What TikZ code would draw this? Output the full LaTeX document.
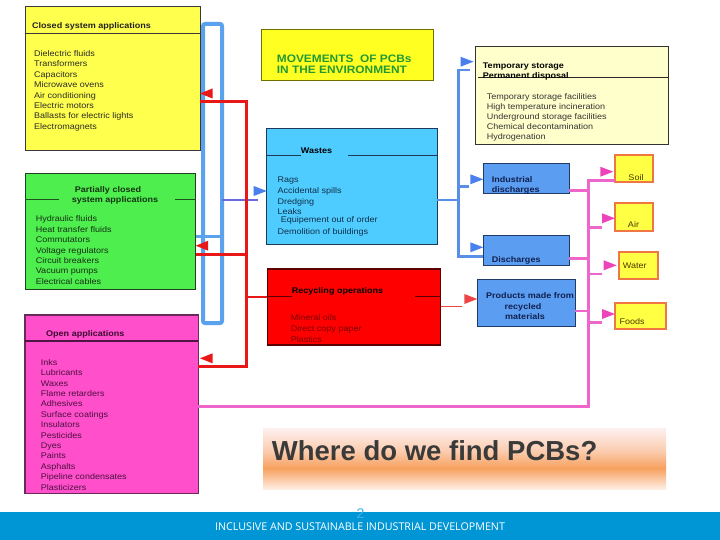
\documentclass[tikz,border=0pt]{standalone}
\usepackage{fontspec}
\setmainfont{Liberation Sans}
\newfontfamily\boxfont[FakeStretch=1.1]{Liberation Sans}
\newfontfamily\footfont{Open Sans}
\definecolor{cyel}{HTML}{FFFF4D}
\definecolor{cgrn}{HTML}{4DEE4D}
\definecolor{cmag}{HTML}{FF4FCB}
\definecolor{ctitle}{HTML}{FFFF22}
\definecolor{cwaste}{HTML}{4FCCFF}
\definecolor{crec}{HTML}{FF0000}
\definecolor{ctemp}{HTML}{FFFFCC}
\definecolor{cbbox}{HTML}{5B9DF0}
\definecolor{ctarget}{HTML}{FFFF44}
\definecolor{corange}{HTML}{EE7744}
\definecolor{cloop}{HTML}{5AA2EE}
\definecolor{cbline}{HTML}{5A8FE8}
\definecolor{cbarrow}{HTML}{4A7FEE}
\definecolor{cthin}{HTML}{6A6ADD}
\definecolor{cred}{HTML}{E81818}
\definecolor{clred}{HTML}{EE4444}
\definecolor{cpink}{HTML}{EE66CC}
\definecolor{cparrow}{HTML}{EE44BB}
\definecolor{cfoot}{HTML}{0096D6}
\definecolor{ctwo}{HTML}{3FB0E6}
\definecolor{ctgreen}{HTML}{229933}
\definecolor{bnB}{HTML}{FFEEE4}
\definecolor{bnO}{HTML}{F7A05E}
\definecolor{bnM}{HTML}{FBCCAE}
\definecolor{bnT}{HTML}{FDF0F0}
\pgfdeclareverticalshading{bannershade}{100bp}{color(0bp)=(bnB); color(25bp)=(bnB); color(42bp)=(bnO); color(56bp)=(bnM); color(75bp)=(bnT); color(100bp)=(bnT)}
\newcommand\arrL[2]{\fill[#1] #2 -- ++(12.5,-5) -- ++(0,10) -- cycle;}
\newcommand\arrR[2]{\fill[#1] #2 -- ++(-13,-5) -- ++(0,10) -- cycle;}
\begin{document}
\begin{tikzpicture}[x=1pt,y=-1pt,
  box/.style={draw, line width=1pt, anchor=north west, inner sep=0pt, outer sep=0pt},
  tbox/.style={box, fill=ctarget, draw=corange, line width=2pt},
  bbox/.style={box, fill=cbbox, draw={rgb,255:red,34;green,58;blue,102}},
  txt/.style={anchor=base west, inner sep=0pt, font=\boxfont\fontsize{8.2}{10}\selectfont},
  hdr/.style={anchor=base west, inner sep=0pt, font=\boxfont\bfseries\fontsize{8.2}{10}\selectfont},
  redline/.style={draw=cred, line width=3pt},
  pinkline/.style={draw=cpink, line width=2.5pt},
  bline/.style={draw=cbline, line width=2.6pt}]
\useasboundingbox (0,0) rectangle (720,540);
\fill[white] (0,0) rectangle (720,540);

% ---------- boxes ----------
\node[box, fill=cyel, draw={rgb,255:red,58;green,58;blue,58}, minimum width=175pt, minimum height=144pt] (closed) at (25,7) {};
\node[box, fill=cgrn, draw={rgb,255:red,31;green,63;blue,31}, minimum width=170.7pt, minimum height=115.7pt] (green) at (25,173.3) {};
\node[box, fill=cmag, draw={rgb,255:red,106;green,42;blue,90}, line width=1.5pt, minimum width=173.3pt, minimum height=178.3pt] (openapp) at (25,315) {};
\node[box, fill=ctitle, draw={rgb,255:red,111;green,111;blue,0}, minimum width=171.6pt, minimum height=51pt] (title) at (261.7,30) {};
\node[box, fill=cwaste, draw={rgb,255:red,30;green,58;blue,90}, minimum width=170.6pt, minimum height=115.3pt] (wastes) at (266.7,129) {};
\node[box, fill=crec, draw={rgb,255:red,90;green,0;blue,0}, line width=1.5pt, minimum width=173.4pt, minimum height=76pt] (recyc) at (267.3,269) {};
\node[box, fill=ctemp, draw={rgb,255:red,51;green,51;blue,51}, minimum width=193.3pt, minimum height=97.6pt] (temp) at (475,46.7) {};
\node[bbox, minimum width=86pt, minimum height=29.3pt] (indis) at (483.3,164) {};
\node[bbox, minimum width=86pt, minimum height=30pt] (disch) at (483.3,235) {};
\node[bbox, minimum width=97.7pt, minimum height=46.7pt] (prods) at (477.3,279.3) {};
\node[tbox, minimum width=38.3pt, minimum height=26.7pt] (soil) at (615,155) {};
\node[tbox, minimum width=38.3pt, minimum height=27.4pt] (air) at (615,203.3) {};
\node[tbox, minimum width=39pt, minimum height=27.6pt] (water) at (619.3,251.7) {};
\node[tbox, minimum width=51pt, minimum height=26pt] (foods) at (615,302.7) {};

% header separators
\draw[line width=1pt, draw={rgb,255:red,58;green,58;blue,58}] (closed.west |- 0,33.3) -- (closed.east |- 0,33.3);
\draw[line width=1pt, draw={rgb,255:red,31;green,80;blue,31}] (green.west |- 0,199.3) -- (59.3,199.3) (175,199.3) -- (green.east |- 0,199.3);
\draw[line width=1.5pt, draw={rgb,255:red,80;green,20;blue,70}] (openapp.west |- 0,341) -- (openapp.east |- 0,341);
\draw[line width=1pt, draw={rgb,255:red,30;green,58;blue,90}] (wastes.west |- 0,156) -- (300.7,156) (348.3,156) -- (wastes.east |- 0,156);
\draw[line width=1pt, draw={rgb,255:red,90;green,0;blue,0}] (recyc.west |- 0,296.7) -- (291.7,296.7) (415,296.7) -- (recyc.east |- 0,296.7);
\draw[line width=1pt, draw={rgb,255:red,40;green,40;blue,40}] (478,77.7) -- (temp.east |- 0,77.7);

% ---------- texts ----------
\node[hdr, text={rgb,255:red,34;green,34;blue,34}] (ch) at (32,29) {Closed system applications};
\foreach \t [count=\i from 0] in {Dielectric fluids,Transformers,Capacitors,Microwave ovens,Air conditioning,Electric motors,Ballasts for electric lights,Electromagnets}
  \node[txt, text={rgb,255:red,42;green,42;blue,42}] (ci\i) at (34,56.5+10.4*\i) {\t};

\node[hdr, anchor=base, text={rgb,255:red,20;green,50;blue,20}] (gh1) at (108,192.5) {Partially closed};
\node[hdr, anchor=base, text={rgb,255:red,20;green,50;blue,20}] (gh2) at (115,202.5) {system applications};
\foreach \t [count=\i from 0] in {Hydraulic fluids,Heat transfer fluids,Commutators,Voltage regulators,Circuit breakers,Vacuum pumps,Electrical cables}
  \node[txt, text={rgb,255:red,22;green,48;blue,22}] (gi\i) at (35.7,221.8+10.4*\i) {\t};

\node[hdr, text={rgb,255:red,58;green,10;blue,48}] (oh) at (46,336.5) {Open applications};
\foreach \t [count=\i from 0] in {Inks,Lubricants,Waxes,Flame retarders,Adhesives,Surface coatings,Insulators,Pesticides,Dyes,Paints,Asphalts,Pipeline condensates,Plasticizers}
  \node[txt, text={rgb,255:red,74;green,16;blue,64}] (oi\i) at (40.7,365.2+10.42*\i) {\t};

\node[anchor=base west, inner sep=0pt, text=ctgreen, font=\boxfont\bfseries\fontsize{10.8}{10.7}\selectfont] (tt1) at (276.7,63) {MOVEMENTS\ \ OF PCBs};
\node[anchor=base west, inner sep=0pt, text=ctgreen, font=\boxfont\bfseries\fontsize{10.8}{10.7}\selectfont] (tt2) at (276.7,73.7) {IN THE ENVIRONMENT};

\node[hdr, text=black] (wh) at (300.7,153.5) {Wastes};
\node[txt, text={rgb,255:red,16;green,48;blue,74}] (w1) at (277.3,182.5) {Rags};
\node[txt, text={rgb,255:red,16;green,48;blue,74}] (w2) at (277.3,193.5) {Accidental spills};
\node[txt, text={rgb,255:red,16;green,48;blue,74}] (w3) at (277.3,204.8) {Dredging};
\node[txt, text={rgb,255:red,16;green,48;blue,74}] (w4) at (277.3,214.2) {Leaks};
\node[txt, text={rgb,255:red,16;green,48;blue,74}] (w5) at (280.7,222.5) {Equipement out of order};
\node[txt, text={rgb,255:red,16;green,48;blue,74}] (w6) at (277.3,234.8) {Demolition of buildings};

\node[hdr, text=black] (rh) at (291.7,293) {Recycling operations};
\foreach \t [count=\i from 0] in {Mineral oils,Direct copy paper,Plastics}
  \node[txt, text={rgb,255:red,122;green,0;blue,0}] (ri\i) at (290.7,320+11.2*\i) {\t};

\node[hdr, text=black] (th1) at (482.7,68.5) {Temporary storage};
\node[hdr, text=black] (th2) at (482.7,79) {Permanent disposal};
\foreach \t [count=\i from 0] in {Temporary storage facilities,High temperature incineration,Underground storage facilities,Chemical decontamination,Hydrogenation}
  \node[txt, text={rgb,255:red,51;green,51;blue,51}] (ti\i) at (486.7,99.8+10*\i) {\t};

\node[hdr, text={rgb,255:red,16;green,32;blue,80}] (id1) at (491.7,182.5) {Industrial};
\node[hdr, text={rgb,255:red,16;green,32;blue,80}] (id2) at (491.7,193) {discharges};
\node[hdr, text={rgb,255:red,16;green,32;blue,80}] (dt) at (491.7,262.5) {Discharges};
\node[hdr, text={rgb,255:red,16;green,32;blue,80}] (pt1) at (486,298.5) {Products made from};
\node[hdr, anchor=base, text={rgb,255:red,16;green,32;blue,80}] (pt2) at (523,309) {recycled};
\node[hdr, anchor=base, text={rgb,255:red,16;green,32;blue,80}] (pt3) at (525,319) {materials};

\node[txt, anchor=base, text={rgb,255:red,74;green,58;blue,0}] (st) at (636,180.5) {Soil};
\node[txt, anchor=base, text={rgb,255:red,74;green,58;blue,0}] (at) at (633.5,227.5) {Air};
\node[txt, text={rgb,255:red,74;green,58;blue,0}] (wt) at (622.7,268.5) {Water};
\node[txt, text={rgb,255:red,74;green,58;blue,0}] (ft) at (619.3,324) {Foods};

% ---------- blue loop and connectors ----------
\node[box, draw=cloop, line width=4pt, rounded corners=2pt, minimum width=19pt, minimum height=299pt] (loop) at (203,24) {};
\draw[draw=cloop, line width=3pt] (green.east |- 0,236) -- (loop.east |- 0,236);
\draw[draw=cthin, line width=1.5pt] (loop.east |- 0,200) -- (258,200);
\arrR{cbarrow}{(wastes.west |- 0,191)}

\coordinate (bj) at (458.3,200);
\draw[bline] (wastes.east |- bj) -- (bj);
\draw[bline] (470,70) -- (458.3,70) -- (458.3,256.7) -- (disch.west |- 0,256.7);
\draw[bline] (458.3,186.7) -- (469,186.7);
\arrR{cbarrow}{(473.5,61.7)}
\arrR{cbarrow}{(indis.west |- 0,179.3)}
\arrR{cbarrow}{(disch.west |- 0,247.3)}

% ---------- red connectors ----------
\coordinate (rj1) at (246.7,101.7);
\coordinate (rj3) at (246.7,366.7);
\draw[redline] (closed.east |- rj1) -- (rj1) -- (rj3) -- (openapp.east |- rj3);
\draw[redline] (green.east |- 0,254) -- (246.7,254);
\draw[draw=cred, line width=2pt] (246.7,296.7) -- (recyc.west |- 0,296.7);
\arrL{cred}{(closed.east |- 0,93.5)}
\arrL{cred}{(green.east |- 0,245.7)}
\arrL{cred}{(200,358.3)}
\draw[draw=clred, line width=1.5pt] (recyc.east |- 0,306.7) -- (461.7,306.7);
\arrR{clred}{(prods.west |- 0,299)}

% ---------- pink connectors ----------
\draw[pinkline] (openapp.east |- 0,406.7) -- (588.3,406.7) -- (588.3,180.7) -- (soil.west |- 0,180.7);
\draw[pinkline] (indis.east |- 0,190.7) -- (588.3,190.7);
\draw[pinkline] (disch.east |- 0,258.3) -- (588.3,258.3);
\draw[pinkline] (prods.east |- 0,311) -- (588.3,311);
\draw[pinkline] (588.3,227.3) -- (601.7,227.3);
\draw[pinkline] (588.3,274) -- (601.7,274);
\draw[pinkline] (588.3,322.7) -- (601.7,322.7);
\arrR{cparrow}{(613.3,171.7)}
\arrR{cparrow}{(air.west |- 0,218.3)}
\arrR{cparrow}{(616.7,265.3)}
\arrR{cparrow}{(foods.west |- 0,314)}

% ---------- banner ----------
\node[box, draw=none, shading=bannershade, minimum width=403pt, minimum height=61pt] (banner) at (263,428) {};
\node[anchor=base west, inner sep=0pt, text={rgb,255:red,58;green,58;blue,58}, font=\bfseries\fontsize{27.5}{30}\selectfont] (bt) at (271.7,460) {Where do we find PCBs?};

% ---------- footer ----------
\fill[cfoot] (0,512) rectangle (720,540);
\node[anchor=base, inner sep=0pt, text=white, font=\footfont\fontsize{10.7}{12}\selectfont] (foot) at (360,530.5) {INCLUSIVE AND SUSTAINABLE INDUSTRIAL DEVELOPMENT};
\node[anchor=center, inner sep=0pt, text=ctwo, font=\fontsize{14}{16}\selectfont] (pg) at (360.5,514) {2};
\end{tikzpicture}
\end{document}
